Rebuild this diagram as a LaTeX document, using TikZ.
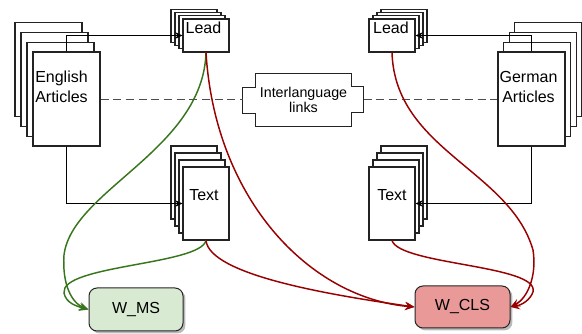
\documentclass[tikz,border=0pt]{standalone}
\usepackage{fontspec}
\setmainfont{Liberation Sans}
\usetikzlibrary{arrows.meta,shadows}

\definecolor{linkgreen}{RGB}{56,118,29}
\definecolor{linkred}{RGB}{153,0,0}
\definecolor{msfill}{RGB}{217,234,211}
\definecolor{clsfill}{RGB}{234,153,153}
\definecolor{sheetline}{RGB}{35,35,35}

\tikzset{every picture/.style={line width=0.75pt}}
\tikzset{
  sheet/.style={draw=sheetline, fill=white, inner sep=0pt, line width=0.8pt},
  sheetbig/.style={sheet, minimum width=50.25pt, minimum height=70.5pt},
  sheetsmall/.style={sheet, minimum width=34.5pt, minimum height=24.75pt},
  sheettall/.style={sheet, minimum width=34.5pt, minimum height=54.75pt},
  lbl/.style={inner sep=0pt, align=center, font=\fontsize{12}{15}\selectfont},
  linkbox/.style={inner sep=0pt, minimum width=71.25pt, minimum height=39pt, align=center, font=\fontsize{10.7}{11.7}\selectfont},
  score/.style={draw=black!85, rounded corners=6pt, inner sep=0pt, font=\fontsize{12}{15}\selectfont,
    drop shadow={shadow xshift=1.8pt, shadow yshift=-1.8pt, fill=black!45, opacity=0.6}},
  flow/.style={-{Stealth[length=5.5pt,width=5pt]}, black, line width=1pt},
  greenflow/.style={-{Stealth[length=7pt,width=6pt,inset=2.5pt]}, linkgreen, line width=1.1pt},
  redflow/.style={-{Stealth[length=7pt,width=6pt,inset=2.5pt]}, linkred, line width=1.1pt},
  linkdash/.style={draw=black!70, line width=0.7pt, dash pattern={on 6pt off 3.5pt}}
}

\begin{document}
\begin{tikzpicture}[x=0.75pt,y=0.75pt,yscale=-1,xscale=1]
\useasboundingbox (0,0) rectangle (582,334);

% English stack
\foreach \i in {3,2,1} \node[sheetbig] (en\i) at ({66.5-6*\i},{99-9.7*\i}) {};
\node[sheetbig] (en) at (66.5,99) {};
% German stack
\foreach \i in {3,2,1} \node[sheetbig] (de\i) at ({531.5+5.6*\i},{99-9.7*\i}) {};
\node[sheetbig] (de) at (531.5,99) {};
% Lead and Text stacks, left
\foreach \i in {3,2,1} \node[sheetsmall] (leadL\i) at ({206-4*\i},{35.5-3.3*\i}) {};
\node[sheetsmall] (leadL) at (206,35.5) {};
\foreach \i in {3,2,1} \node[sheettall] (txtL\i) at ({206-4*\i},{203.5-7*\i}) {};
\node[sheettall] (txtL) at (206,203.5) {};
% Lead and Text stacks, right
\foreach \i in {3,2,1} \node[sheetsmall] (leadR\i) at ({392+4*\i},{35.5-3.3*\i}) {};
\node[sheetsmall] (leadR) at (392,35.5) {};
\foreach \i in {3,2,1} \node[sheettall] (txtR\i) at ({392+4*\i},{203.5-7*\i}) {};
\node[sheettall] (txtR) at (392,203.5) {};

% Text Node
\node[lbl] (enlbl) at (61.5,87) {English\\Articles};
\node[lbl] (delbl) at (528.5,87) {German\\Articles};
\node[lbl] (leadLlbl) at (203.5,27.5) {Lead};
\node[lbl] (leadRlbl) at (391,27.5) {Lead};
\node[lbl] (txtLlbl) at (204,195) {Text};
\node[lbl] (txtRlbl) at (392,195) {Text};

%Shape: Interlanguage links
\node[linkbox] (links) at (303.5,100) {Interlanguage\\links};
\draw[sheetline, line width=0.8pt] (links.north west) -- (links.north east) -- ++(0,13) -- ++(12,0) -- ++(0,26) -- ++(-12,0)
  -- (links.south east) -- (links.south west) -- ++(0,-13) -- ++(-13,0) -- ++(0,-26) -- ++(13,0) -- cycle;
\coordinate (linksW) at ([xshift=-9.75pt]links.west);
\coordinate (linksE) at ([xshift=9pt]links.east);
\draw[linkdash] (en.east) -- (en.east -| linksW);
\draw[linkdash] (de.west -| linksE) -- (de.west);

%Shape: score boxes
\node[score, fill=msfill, minimum width=70.5pt, minimum height=32.25pt] (wms) at (136,309.5) {W\_MS};
\node[score, fill=clsfill, minimum width=71.25pt, minimum height=31.5pt] (wcls) at (462.5,307) {W\_CLS};

% article -> lead / text
\draw[flow] (en.north) |- (leadL.west);
\draw[flow] (en.south) |- (txtL.west);
\draw[flow] (de.north) |- (leadR.east);
\draw[flow] (de.south) |- (txtR.east);

%Curve Lines
\draw[greenflow] (leadL.south) .. controls (203,150) and (72,190) .. (64,255) .. controls (62,285) and (72,303) .. (wms.west);
\draw[greenflow] (txtL.south) .. controls (200,265) and (60,265) .. (64,293) .. controls (66,303) and (76,306) .. (wms.west);
\draw[redflow] (leadL.south) .. controls (215,200) and (310,298) .. (wcls.west);
\draw[redflow] (txtL.south) .. controls (210,275) and (330,295) .. (wcls.west);
\draw[redflow] (leadR.south) .. controls (395,150) and (510,170) .. (533,250) .. controls (537,275) and (528,298) .. (wcls.east);
\draw[redflow] (txtR.south) .. controls (400,265) and (540,265) .. (533,292) .. controls (530,300) and (522,305) .. (wcls.east);
\end{tikzpicture}
\end{document}
